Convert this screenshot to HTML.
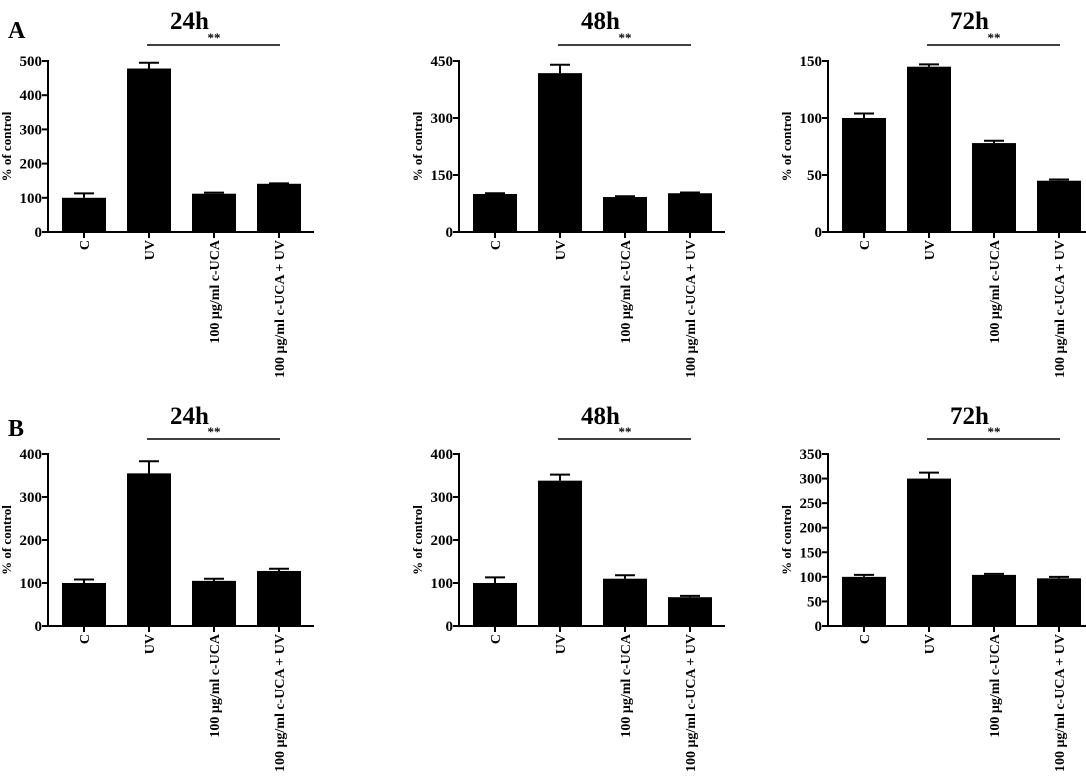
<!DOCTYPE html>
<html><head><meta charset="utf-8"><style>
html,body{margin:0;padding:0;background:#fff}
svg{display:block}
text{font-family:"Liberation Serif",serif;font-weight:bold;fill:#000}
</style></head><body>
<svg id="fig" width="1086" height="781" viewBox="0 0 1086 781" xmlns="http://www.w3.org/2000/svg">
<text x="8" y="38" font-size="24">A</text>
<text x="8" y="436" font-size="24">B</text>
</svg>
<script>
const categories = ["C","UV","100 \u03bcg/ml c-UCA","100 \u03bcg/ml c-UCA + UV"];
const titles = ["24h","48h","72h","24h","48h","72h"];
const valsA24 = [100,478,112,141];  const errA24 = [113,495,115,142];
const valsA48 = [100,418,92,102];   const errA48 = [102,440,94,104];
const valsA72 = [100,145,78,45];    const errA72 = [104,147,80,46];
const valsB24 = [100,355,105,128];  const errB24 = [108,383,110,133];
const valsB48 = [100,338,110,67];   const errB48 = [113,352,118,70];
const valsB72 = [100,300,104,97];   const errB72 = [104,312,106,100];
const ticksA24 = [0,100,200,300,400,500];
const ticksA48 = [0,150,300,450];
const ticksA72 = [0,50,100,150];
const ticksB24 = [0,100,200,300,400];
const ticksB48 = [0,100,200,300,400];
const ticksB72 = [0,50,100,150,200,250,300,350];

const NS = "http://www.w3.org/2000/svg";
const svg = document.getElementById('fig');
function mk(tag, attrs, parent){const e=document.createElementNS(NS,tag);for(const k in attrs)e.setAttribute(k,attrs[k]);(parent||svg).appendChild(e);return e;}

const panels = [
 {v:valsA24,e:errA24,t:ticksA24,row:0,col:0,name:'a-24h'},
 {v:valsA48,e:errA48,t:ticksA48,row:0,col:1,name:'a-48h'},
 {v:valsA72,e:errA72,t:ticksA72,row:0,col:2,name:'a-72h'},
 {v:valsB24,e:errB24,t:ticksB24,row:1,col:0,name:'b-24h'},
 {v:valsB48,e:errB48,t:ticksB48,row:1,col:1,name:'b-48h'},
 {v:valsB72,e:errB72,t:ticksB72,row:1,col:2,name:'b-72h'}
];
const axisX=[48,459,828];
const rowTop=[61,454], rowZero=[232,626], titleY=[24,419], sigY=[45,439];

panels.forEach((p,i)=>{
  const g=mk('g',{});
  
  
  const ax=axisX[p.col], top=rowTop[p.row], zero=rowZero[p.row];
  const maxT=p.t[p.t.length-1];
  const y=v=>zero-(v/maxT)*(zero-top);
  const xc=k=>ax+14+22+k*65;
  p.v.forEach((v,k)=>{
    const r=mk('rect',{x:xc(k)-22,y:y(v),width:44,height:zero-y(v),fill:'#000'},g);
    
    
    const eb=mk('path',{d:`M${xc(k)},${y(v)}V${y(p.e[k])}M${xc(k)-10},${y(p.e[k])}H${xc(k)+10}`,stroke:'#000','stroke-width':2,fill:'none'},g);
    
    
    const xt=mk('line',{x1:xc(k),y1:zero,x2:xc(k),y2:zero+6,stroke:'#000','stroke-width':2},g);
    
    
  });
  const yl=mk('line',{x1:ax,y1:top-1,x2:ax,y2:zero+1,stroke:'#000','stroke-width':2},g);
  
  
  const xl=mk('line',{x1:ax-6,y1:zero,x2:ax+266,y2:zero,stroke:'#000','stroke-width':2},g);
  
  
  p.t.forEach(t=>{
    mk('line',{x1:ax-6,y1:y(t),x2:ax,y2:y(t),stroke:'#000','stroke-width':2},g);
    const tl=mk('text',{x:ax-6,y:y(t)+5,'font-size':15,'text-anchor':'end'},g);
    tl.textContent=t;
    
    
  });
  const cy=(top+zero)/2;
  const yt=mk('text',{x:0,y:0,'font-size':13,'text-anchor':'middle',transform:`translate(${ax-37},${cy}) rotate(-90)`},g);
  yt.textContent='% of control';
  
  
  categories.forEach((c,k)=>{
    const ct=mk('text',{x:0,y:0,'font-size':14,'text-anchor':'end',transform:`translate(${xc(k)+5},${zero+8}) rotate(-90)`},g);
    ct.textContent=c;
    
    
  });
  const tt=mk('text',{x:xc(1.5)+8,y:titleY[p.row]+5,'font-size':25,'text-anchor':'middle'},g);
  tt.textContent=titles[i];
  
  
  const sl=mk('line',{x1:xc(1)-2,y1:sigY[p.row],x2:xc(3)+1,y2:sigY[p.row],stroke:'#000','stroke-width':1.5},g);
  
  
  const st=mk('text',{x:(xc(1)+xc(3))/2,y:sigY[p.row]-3,'font-size':13,'text-anchor':'middle','font-weight':'normal'},g);
  st.textContent='**';
  
  
});
</script>
</body></html>
